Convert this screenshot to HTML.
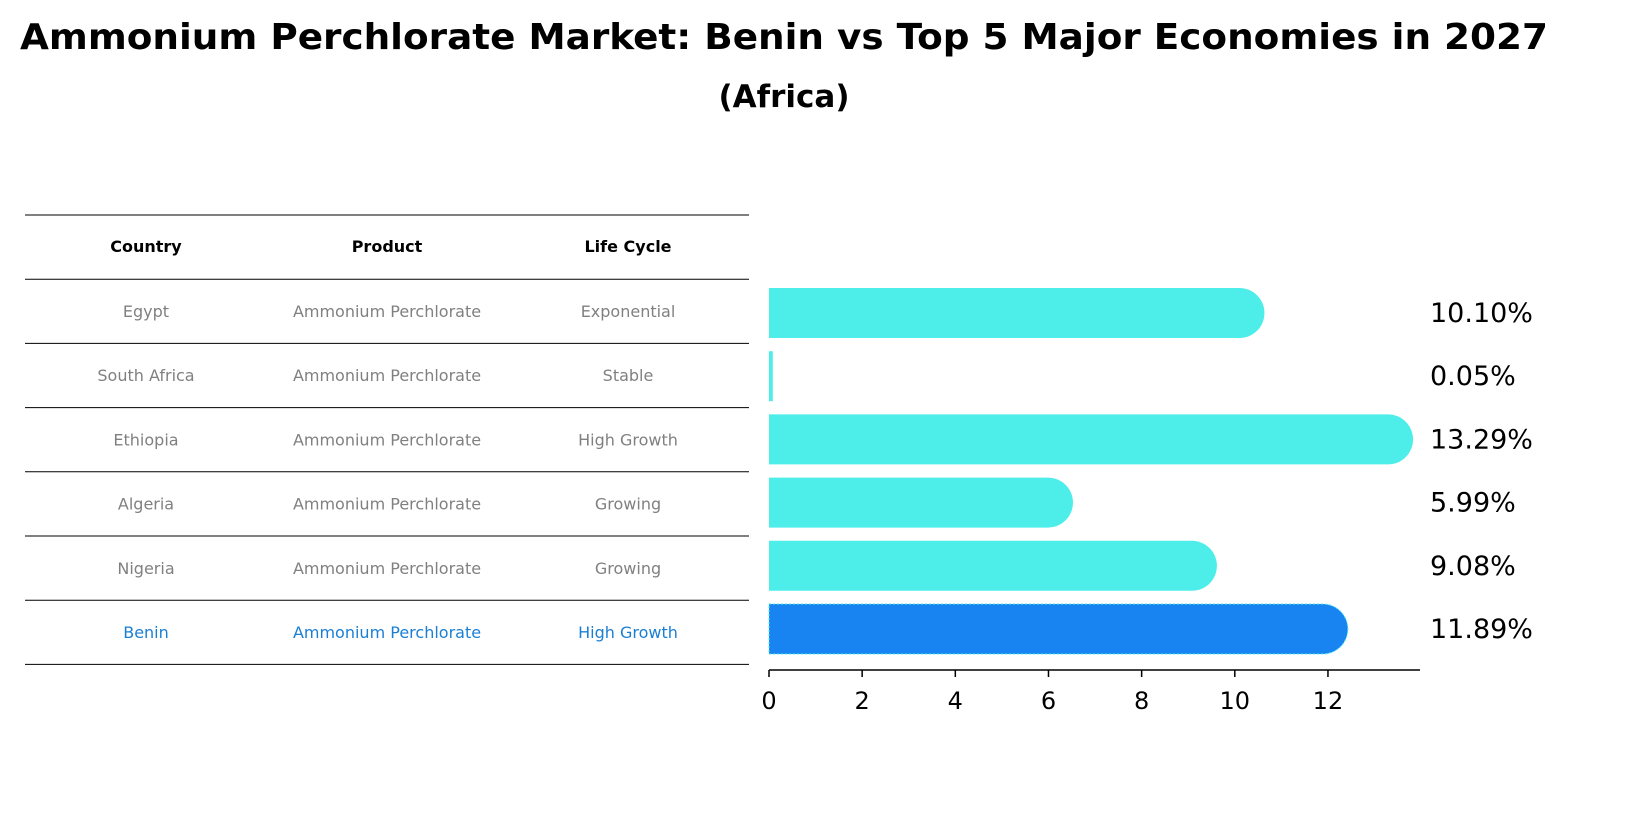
<!DOCTYPE html>
<html><head><meta charset="utf-8"><style>
body{margin:0;background:#fff;font-family:"Liberation Sans","DejaVu Sans",sans-serif}
svg text{font-family:"DejaVu Sans","Liberation Sans",sans-serif}
</style></head><body>
<svg id="c" width="1628" height="823" xmlns="http://www.w3.org/2000/svg">
<text x="784" y="49" text-anchor="middle" font-size="36" font-weight="bold" textLength="1528" lengthAdjust="spacingAndGlyphs">Ammonium Perchlorate Market: Benin vs Top 5 Major Economies in 2027</text>
<text x="784" y="107" text-anchor="middle" font-size="31" font-weight="bold">(Africa)</text>
<g id="table"></g>
<g id="bars"></g>
<g id="axis"></g>
</svg>
<script>
const countries=["Egypt","South Africa","Ethiopia","Algeria","Nigeria","Benin"];
const lifecycles=["Exponential","Stable","High Growth","Growing","Growing","High Growth"];
const values=[10.10,0.05,13.29,5.99,9.08,11.89];
const ticks=[0,2,4,6,8,10,12];
const NS="http://www.w3.org/2000/svg";
const x0=769,ppu=46.58;
const xs=v=>x0+v*ppu;
const rowY=i=>313+i*63.2;
function mk(t,a,p){const e=document.createElementNS(NS,t);for(const k in a)e.setAttribute(k,a[k]);p.appendChild(e);return e;}
const tb=document.getElementById('table');
const cols=[146,387,628];
for(let i=0;i<8;i++){const l=mk('line',{x1:25,x2:749,y1:215+i*64.2,y2:215+i*64.2,stroke:'#000','stroke-width':1},tb);

}
["Country","Product","Life Cycle"].forEach((h,j)=>{const t=mk('text',{x:cols[j],y:252,'text-anchor':'middle','font-size':16,'font-weight':'bold'},tb);t.textContent=h;

});
countries.forEach((c,i)=>{const col=c==="Benin"?"#1a7fd4":"#808080";const y=317+i*64.2;
[c,"Ammonium Perchlorate",lifecycles[i]].forEach((s,j)=>{const t=mk('text',{x:cols[j],y:y,'text-anchor':'middle','font-size':16,fill:col},tb);t.textContent=s;

});});
const bg=document.getElementById('bars');const h=50,r=25;
values.forEach((v,i)=>{const cy=rowY(i),isB=countries[i]==="Benin",col=isB?"#1884f2":"#4deeea";const xe=xs(v);
let p;
if(v<0.5){p=mk('rect',{x:x0,y:cy-h/2,width:Math.max(2,xe-x0+1.5),height:h,fill:col},bg);}
else{p=mk('path',{d:`M${x0},${cy-h/2}H${xe}A${r},${r} 0 0 1 ${xe},${cy+h/2}H${x0}Z`,fill:col},bg);}
if(isB){p.setAttribute('stroke','#4deeea');p.setAttribute('stroke-dasharray','2,2');p.setAttribute('stroke-width','1');}


const t=mk('text',{x:1430,y:cy+9,'font-size':27},bg);t.textContent=v.toFixed(2)+'%';

});
const ax=document.getElementById('axis');
mk('line',{x1:x0,x2:1420,y1:670,y2:670,stroke:'#000','stroke-width':1.5},ax);
ticks.forEach(v=>{mk('line',{x1:xs(v),x2:xs(v),y1:670,y2:677,stroke:'#000','stroke-width':1.5},ax);
const t=mk('text',{x:xs(v),y:709,'text-anchor':'middle','font-size':24},ax);t.textContent=v;

});
</script>
</body></html>
